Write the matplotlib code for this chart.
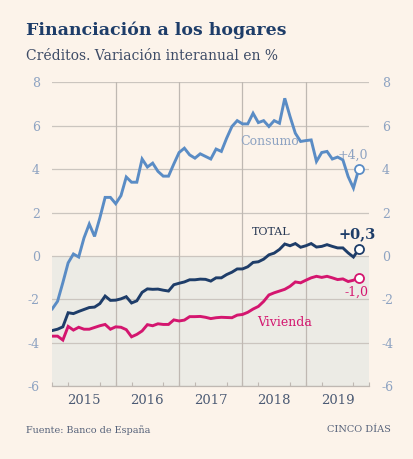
import matplotlib
matplotlib.use("Agg")
import matplotlib.pyplot as plt
import numpy as np

consumo = [-2.44, -2.09, -1.23, -0.32, 0.09, -0.05, 0.83, 1.47, 0.9, 1.75,
           2.7, 2.7, 2.41, 2.78, 3.64, 3.4, 3.4, 4.47, 4.1, 4.28,
           3.9, 3.68, 3.68, 4.24, 4.77, 4.97, 4.66, 4.51, 4.71, 4.59,
           4.47, 4.93, 4.82, 5.43, 5.97, 6.24, 6.09, 6.09, 6.58, 6.15,
           6.24, 5.97, 6.24, 6.12, 7.27, 6.43, 5.66, 5.28, 5.32, 5.35,
           4.36, 4.77, 4.82, 4.47, 4.56, 4.43, 3.66, 3.13, 4.0]
total = [-3.44, -3.38, -3.27, -2.62, -2.66, -2.56, -2.47, -2.38, -2.36, -2.2,
         -1.85, -2.05, -2.04, -1.98, -1.88, -2.17, -2.07, -1.68, -1.52, -1.54,
         -1.53, -1.58, -1.62, -1.33, -1.26, -1.2, -1.1, -1.1, -1.07, -1.08,
         -1.16, -1.01, -1.01, -0.86, -0.75, -0.6, -0.6, -0.5, -0.3, -0.27,
         -0.15, 0.05, 0.13, 0.3, 0.55, 0.47, 0.57, 0.4, 0.47, 0.57,
         0.41, 0.44, 0.52, 0.44, 0.37, 0.37, 0.14, -0.05, 0.3]
vivienda = [-3.70, -3.70, -3.88, -3.25, -3.42, -3.29, -3.38, -3.38, -3.30, -3.22,
            -3.16, -3.38, -3.27, -3.29, -3.40, -3.73, -3.62, -3.46, -3.17, -3.22,
            -3.13, -3.16, -3.16, -2.95, -3.00, -2.96, -2.80, -2.80, -2.79, -2.83,
            -2.89, -2.85, -2.83, -2.84, -2.85, -2.73, -2.70, -2.60, -2.45, -2.33,
            -2.10, -1.80, -1.70, -1.62, -1.54, -1.40, -1.20, -1.24, -1.12, -1.01,
            -0.94, -0.99, -0.94, -1.01, -1.09, -1.06, -1.18, -1.12, -1.0]
start_year = 2015
years = [2015, 2016, 2017, 2018, 2019]
yticks = [-6, -4, -2, 0, 2, 4, 6, 8]

BG = "#fcf3ea"
SHADE = "#ecebe5"
C_CONS = "#5a8cc5"
C_TOT = "#1e3d69"
C_VIV = "#d4166f"
C_LBL = "#8ea3c2"
FONT = "DejaVu Serif"

x = start_year + np.arange(len(consumo)) / 12.0

fig = plt.figure(figsize=(4.14, 4.59), dpi=100, facecolor=BG)
ax = fig.add_axes([0.1263, 0.159, 0.7657, 0.6613])
ax.set_facecolor(BG)
ax.set_xlim(2015.0, 2020.0)
ax.set_ylim(-6, 8)
ax.axhspan(-6, 0, color=SHADE, zorder=0, lw=0)

for yv in yticks:
    ax.axhline(yv, color="#cbc5bf", lw=0.9, zorder=1)
for yr in years[1:]:
    ax.axvline(yr, color="#bfb8b2", lw=0.9, zorder=1)

ax.plot(x, consumo, color=C_CONS, lw=2.1, zorder=3, solid_joinstyle="miter")
ax.plot(x, total, color=C_TOT, lw=2.1, zorder=3, solid_joinstyle="miter")
ax.plot(x, vivienda, color=C_VIV, lw=2.1, zorder=3, solid_joinstyle="miter")

for s, c in [(consumo, C_CONS), (total, C_TOT), (vivienda, C_VIV)]:
    ax.plot(x[-1], s[-1], "o", ms=6.5, mfc="white", mec=c, mew=1.3, zorder=4)

for sp in ["top", "left", "right"]:
    ax.spines[sp].set_visible(False)
ax.spines["bottom"].set_color("#bfb8b2")
ax.spines["bottom"].set_linewidth(0.9)

ax.set_yticks(yticks)
ax.set_yticklabels([str(v) for v in yticks])
ax.tick_params(axis="y", which="both", length=0, labelsize=9, labelcolor=C_LBL,
               left=False, right=False, labelleft=True, labelright=True, pad=9)
for lab in ax.get_yticklabels():
    lab.set_family(FONT)

ax.set_xticks([y + 0.5 for y in years])
ax.set_xticklabels([str(y) for y in years])
ax.set_xticks([start_year + q / 4 for q in range(0, 21)], minor=True)
ax.tick_params(axis="x", which="major", length=0, labelsize=9.5, labelcolor="#4b5a74", pad=6)
ax.tick_params(axis="x", which="minor", length=3, direction="in", color="#bfb8b2", width=0.8)
for lab in ax.get_xticklabels():
    lab.set_family(FONT)

# series labels
ax.text(2018.43, 5.28, "Consumo", color=C_LBL, fontsize=9, family=FONT, ha="center", va="center")
ax.text(2018.46, 1.09, "TOTAL", color="#2a3a55", fontsize=8, family=FONT, ha="center", va="center")
ax.text(2018.67, -3.08, "Vivienda", color=C_VIV, fontsize=9, family=FONT, ha="center", va="center")
ax.text(2019.98, 4.62, "+4,0", color=C_LBL, fontsize=9, family=FONT, ha="right", va="center")
ax.text(2020.1, 1.01, "+0,3", color=C_TOT, fontsize=10.5, family=FONT, fontweight="bold", ha="right", va="center")
ax.text(2019.98, -1.68, "-1,0", color=C_VIV, fontsize=9, family=FONT, ha="right", va="center")

fig.text(26 / 414, 1 - 30 / 459, "Financiación a los hogares", color=C_TOT, fontsize=12.5,
         fontweight="bold", family=FONT, ha="left", va="center")
fig.text(26 / 414, 1 - 56 / 459, "Créditos. Variación interanual en %", color="#3d4b66",
         fontsize=10, family=FONT, ha="left", va="center")
fig.text(26 / 414, 1 - 430 / 459, "Fuente: Banco de España", color="#56627a",
         fontsize=6.9, family=FONT, ha="left", va="center")
fig.text(391 / 414, 1 - 430 / 459, "CINCO DÍAS", color="#56627a",
         fontsize=7, family=FONT, ha="right", va="center")

fig.savefig("out.png", dpi=100, facecolor=BG)
